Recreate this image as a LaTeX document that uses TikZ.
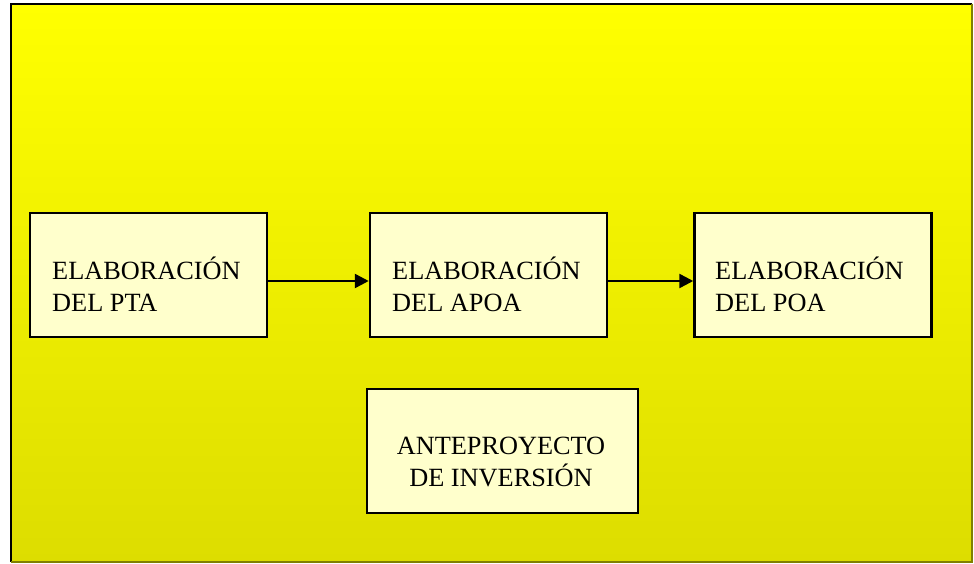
\documentclass[tikz,border=0pt]{standalone}
\usepackage{fontspec}
\setmainfont{Liberation Serif}
\usetikzlibrary{arrows.meta}
\definecolor{paleyellow}{RGB}{255,255,204}
\definecolor{darkyellow}{RGB}{221,221,0}
\definecolor{shadowolive}{RGB}{128,128,0}
\tikzstyle{box}=[rectangle, fill=paleyellow, draw=black, line width=2.5pt, minimum width=237pt, minimum height=124pt, inner sep=0pt, anchor=center]
\tikzstyle{annot}=[align=left, inner sep=0pt, font=\fontsize{26.3pt}{32pt}\selectfont]
\tikzstyle{link}=[line width=2.5pt, -{Triangle[length=14pt,width=14pt]}]

\begin{document}
\begin{tikzpicture}[x=1pt,y=-1pt]
	\useasboundingbox (0,0) rectangle (974,564);
	% background panel
	\shade[top color=yellow, bottom color=darkyellow] (11,4) rectangle (972,562);
	\draw[line width=2pt] (11,562) -- (11,4) -- (972,4);
	\draw[line width=2pt, shadowolive] (972,4) -- (972,562) -- (11,562);

	\node[box](pta) at (148.5,275){};
	\node[box](apoa) at (488.5,275){};
	\node[box](poa) at (813,275){};
	\node[box, minimum width=271pt](inversion) at (502.5,451){};

	\node[annot, anchor=base west](ptatext) at (52,311){ELABORACIÓN\\DEL PTA};
	\node[annot, anchor=base west](apoatext) at (392,311){ELABORACIÓN\\DEL APOA};
	\node[annot, anchor=base west](poatext) at (715,311){ELABORACIÓN\\DEL POA};
	\node[annot, align=center, anchor=base](inversiontext) at (501,486){ANTEPROYECTO\\DE INVERSIÓN};

	\draw[link] ([yshift=-6pt]pta.east) -- ([yshift=-6pt]apoa.west);
	\draw[link] ([yshift=-6pt]apoa.east) -- ([yshift=-6pt]poa.west);
\end{tikzpicture}
\end{document}
